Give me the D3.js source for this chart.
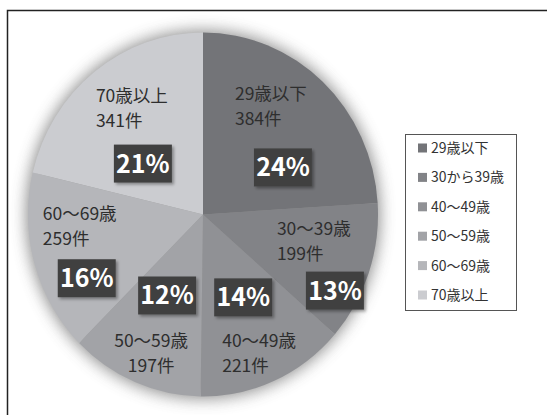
<!DOCTYPE html>
<html lang="ja">
<head>
<meta charset="UTF-8">
<title>年代別件数</title>
<script src="https://d3js.org/d3.v7.min.js"></script>
<style>
  body { margin: 0; background: #fff; }
  text { font-family: "Noto Sans CJK JP", "Noto Sans", sans-serif; }
</style>
</head>
<body>
<svg width="547" height="415"></svg>
<script>
// chart data
const categories = ["29歳以下", "30〜39歳", "40〜49歳", "50〜59歳", "60〜69歳", "70歳以上"];
const legendLabels = ["29歳以下", "30から39歳", "40〜49歳", "50〜59歳", "60〜69歳", "70歳以上"];
const counts = [384, 199, 221, 197, 259, 341];
const percentLabels = ["24%", "13%", "14%", "12%", "16%", "21%"];
const colors = ["#737478", "#828387", "#909195", "#a2a3a7", "#b5b6ba", "#cbccd0"];

// label placement: angle shift from slice middle (deg), radius fraction, text offset from box
const labelLayout = [
  {da: 17.3, r: 0.525, tx: -48, ty: -74, anchor: "start"},
  {da: 10.3, r: 0.862, tx: -58, ty: -62, anchor: "start"},
  {da: -2.7, r: 0.51, tx: -21, ty: 43, anchor: "start"},
  {da: 1.8, r: 0.49, tx: -16, ty: 45, anchor: "middle"},
  {da: -12, r: 0.751, tx: -44, ty: -65, anchor: "start"},
  {da: -12.5, r: 0.443, tx: -47, ty: -68, anchor: "start"}
];

const data = categories.map((c, i) => ({name: c, count: counts[i], pct: percentLabels[i], color: colors[i]}));

const svg = d3.select("svg");
const cx = 203, cy = 214.5, R = 182, sx = 175 / 182;

// chart frame
svg.append("rect")
  .attr("x", 7.5).attr("y", 10.5)
  .attr("width", 560).attr("height", 420)
  .attr("fill", "#fff")
  .attr("stroke", "#222").attr("stroke-width", 1.5);

const defs = svg.append("defs");
defs.append("filter").attr("id", "halo")
  .attr("x", "-20%").attr("y", "-20%").attr("width", "140%").attr("height", "140%")
  .append("feGaussianBlur").attr("stdDeviation", 8);
const ds = defs.append("filter").attr("id", "boxShadow")
  .attr("x", "-20%").attr("y", "-20%").attr("width", "150%").attr("height", "150%");
ds.append("feDropShadow").attr("dx", 2).attr("dy", 2).attr("stdDeviation", 1.5)
  .attr("flood-color", "#000").attr("flood-opacity", 0.35);

const pieG = svg.append("g").attr("transform", `translate(${cx},${cy}) scale(${sx},1)`);

pieG.append("circle")
  .attr("r", R + 2)
  .attr("fill", "#7a7a7a")
  .attr("opacity", 0.85)
  .attr("filter", "url(#halo)");

const pie = d3.pie().sort(null).value(d => d.count);
const arc = d3.arc().innerRadius(0).outerRadius(R);
const arcs = pie(data);

pieG.selectAll("path.slice")
  .data(arcs)
  .join("path")
  .attr("class", "slice")
  .attr("d", arc)
  .attr("fill", d => d.data.color);

// data labels
const labelG = svg.append("g").attr("transform", `translate(${cx},${cy})`);
arcs.forEach((a, i) => {
  const lay = labelLayout[i];
  const ang = (a.startAngle + a.endAngle) / 2 + lay.da * Math.PI / 180;
  const pos = d3.arc().innerRadius(R * lay.r).outerRadius(R * lay.r)
    .centroid({startAngle: ang, endAngle: ang});
  const bx = pos[0] * sx, by = pos[1];

  const g = labelG.append("g").attr("transform", `translate(${bx},${by})`);
  const t = g.append("text")
    .attr("text-anchor", lay.anchor)
    .attr("x", lay.tx).attr("y", lay.ty)
    .attr("font-size", 17.5)
    .attr("fill", "#2e2e2e");
  t.append("tspan").attr("x", lay.tx).attr("dy", "0.36em").text(a.data.name);
  t.append("tspan").attr("x", lay.tx).attr("dy", 25).text(a.data.count + "件");

  const box = g.append("g");
  box.append("rect")
    .attr("x", -29).attr("y", -19)
    .attr("width", 58).attr("height", 38)
    .attr("fill", "#414141")
    .attr("filter", "url(#boxShadow)");
  box.append("text")
    .attr("text-anchor", "middle")
    .attr("dy", "0.36em")
    .attr("font-family", "'Noto Sans', sans-serif")
    .attr("font-weight", "bold")
    .attr("font-size", 25)
    .attr("fill", "#fff")
    .text(a.data.pct);
});

// legend
const legend = svg.append("g");
legend.append("rect")
  .attr("x", 405.5).attr("y", 134.5)
  .attr("width", 111).attr("height", 176)
  .attr("fill", "#fff")
  .attr("stroke", "#555").attr("stroke-width", 1);

const ly = d3.scalePoint().domain(legendLabels).range([148, 295]);
const items = legend.selectAll("g.item")
  .data(legendLabels)
  .join("g")
  .attr("class", "item")
  .attr("transform", d => `translate(418,${ly(d)})`);
items.append("rect")
  .attr("x", 0).attr("y", -4.5)
  .attr("width", 9).attr("height", 9)
  .attr("fill", (d, i) => colors[i]);
items.append("text")
  .attr("x", 13).attr("dy", "0.36em")
  .attr("font-size", 14)
  .attr("fill", "#333")
  .text(d => d);
</script>
</body>
</html>
